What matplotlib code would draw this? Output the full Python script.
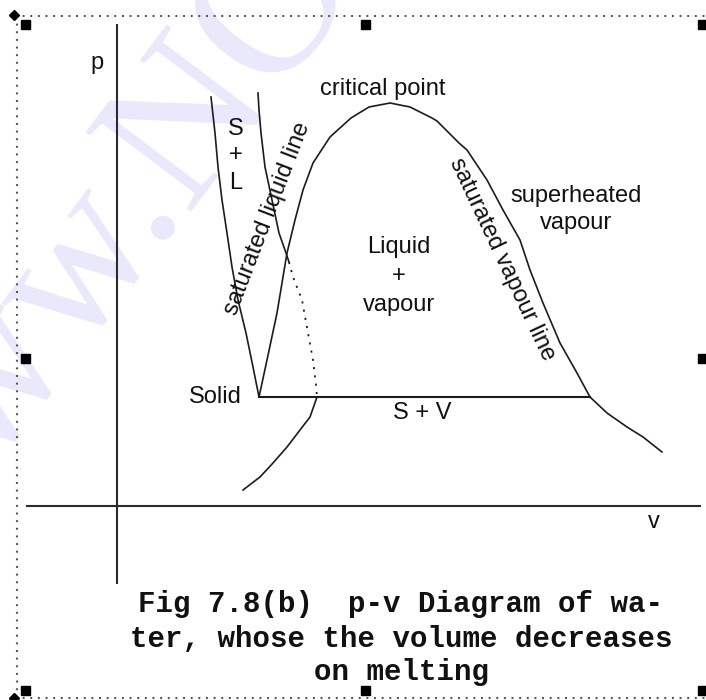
import numpy as np
import matplotlib
matplotlib.use("Agg")
import matplotlib.pyplot as plt

plt.rcParams["lines.scale_dashes"] = False
plt.rcParams["font.family"] = ["Liberation Sans", "DejaVu Sans"]

# ---- p-v diagram of water (v to the right, p upward; origin at the axes crossing) ----
fusion_left_v = [94, 98, 101, 105, 110, 115, 121, 129, 136, 142]
fusion_left_p = [409, 373, 339, 306, 273, 239, 206, 173, 139, 109]

fusion_right_v = [141, 142, 144, 148, 155, 162, 169, 172]
fusion_right_p = [413, 396, 373, 339, 306, 273, 253, 244]

metastable_v = [172, 176, 185, 191, 196, 199, 200]
metastable_p = [244, 229, 206, 173, 146, 121, 109]

sublimation_v = [200, 193, 183, 170, 156, 143, 126]
sublimation_p = [109, 89, 76, 59, 43, 29, 16]

dome_v = [142, 150, 160, 170, 178, 186, 196, 213, 234, 252, 273, 293, 315,
          320, 342, 350, 370, 386, 403, 413, 426, 443, 460, 473]
dome_p = [109, 146, 193, 253, 286, 316, 343, 369, 388, 399, 403, 399, 388,
          385, 363, 356, 326, 296, 266, 236, 203, 163, 133, 109]

vapour_tail_v = [473, 490, 510, 526, 545]
vapour_tail_p = [109, 93, 79, 69, 54]

triple_v = [142, 473]
triple_p = [109, 109]

v_axis_range = [-91, 584]
p_axis_range = [-78, 482]

region_labels = [
    ("critical point", 266, 417, 0),
    ("S", 119, 377, 0),
    ("+", 119, 351, 0),
    ("L", 119, 323, 0),
    ("Liquid", 282, 259, 0),
    ("+", 282, 230, 0),
    ("vapour", 282, 201, 0),
    ("superheated", 459, 310, 0),
    ("vapour", 459, 283, 0),
    ("Solid", 98, 109, 0),
    ("S + V", 305, 93, 0),
    ("saturated liquid line", 150.5, 287.5, 69),
    ("saturated vapour line", 385.5, 247, -64.8),
]

caption_lines = [
    "Fig 7.8(b)  p-v Diagram of wa-",
    "ter, whose the volume decreases",
    "on melting",
]
caption_p = [-98, -133, -166]
caption_v = 284

W, H = 706, 700
fig = plt.figure(figsize=(W / 100, H / 100), dpi=100)

# background layer in pixel units: watermark and the selection frame
bg = fig.add_axes([0, 0, 1, 1])
bg.set_xlim(0, W)
bg.set_ylim(H, 0)
bg.axis("off")

wm_color = "#e9e9fb"
bg.text(186, 212, "www.", fontsize=145, family="Liberation Serif",
        color=wm_color, rotation=53, rotation_mode="anchor",
        ha="right", va="baseline", zorder=0)
bg.text(186, 212, "NO", fontsize=145, family="Liberation Serif",
        color=wm_color, rotation=53, rotation_mode="anchor",
        ha="left", va="baseline", zorder=0)

frame_kw = dict(color="#555555", lw=1.5, linestyle=(0, (1.4, 4.1)),
                solid_capstyle="butt", zorder=1)
bg.plot([15, W], [16, 16], **frame_kw)
bg.plot([17, 17], [16, 698], **frame_kw)
bg.plot([15, W], [698, 698], **frame_kw)
for hx in (25, 365, 702):
    for hy in (24, 358, 690):
        if hx == 365 and hy == 358:
            continue
        bg.add_patch(plt.Rectangle((hx - 4.5, hy - 4.5), 9, 9,
                                   color="black", zorder=2))
for dx, dy in ((14, 15), (14, 698)):
    bg.plot(dx, dy, marker="D", ms=5, color="black", zorder=2)

# diagram layer in p-v units
ax = fig.add_axes([0, 0, 1, 1])
ax.patch.set_alpha(0)
ax.set_xlim(-117, W - 117)
ax.set_ylim(506 - H, 506)
ax.axis("off")

axis_kw = dict(color="#2b2b2b", lw=1.5, solid_capstyle="butt")
ax.plot(v_axis_range, [0, 0], **axis_kw)
ax.plot([0, 0], p_axis_range, **axis_kw)

curve_kw = dict(color="#1c1c1c", lw=1.2, solid_joinstyle="round")
ax.plot(fusion_left_v, fusion_left_p, **curve_kw)
ax.plot(fusion_right_v, fusion_right_p, **curve_kw)
ax.plot(metastable_v, metastable_p, color="#1c1c1c", lw=1.3,
        linestyle=(0, (1.5, 4.5)))
ax.plot(sublimation_v, sublimation_p, **curve_kw)
ax.plot(dome_v, dome_p, **curve_kw)
ax.plot(vapour_tail_v, vapour_tail_p, **curve_kw)
ax.plot(triple_v, triple_p, color="#1c1c1c", lw=1.5)

ax.text(-20, 443, "p", fontsize=17, color="#111111", ha="center", va="center")
ax.text(537, -16, "v", fontsize=17, color="#111111", ha="center", va="center")

for text, v, p, rot in region_labels:
    ax.text(v, p, text, fontsize=17, color="#111111", ha="center",
            va="center", rotation=rot, rotation_mode="anchor")

for line, p in zip(caption_lines, caption_p):
    ax.text(caption_v, p, line, fontsize=21, family="Liberation Mono",
            fontweight="bold", color="#111111", ha="center", va="center")

fig.savefig("out.png", dpi=100)
